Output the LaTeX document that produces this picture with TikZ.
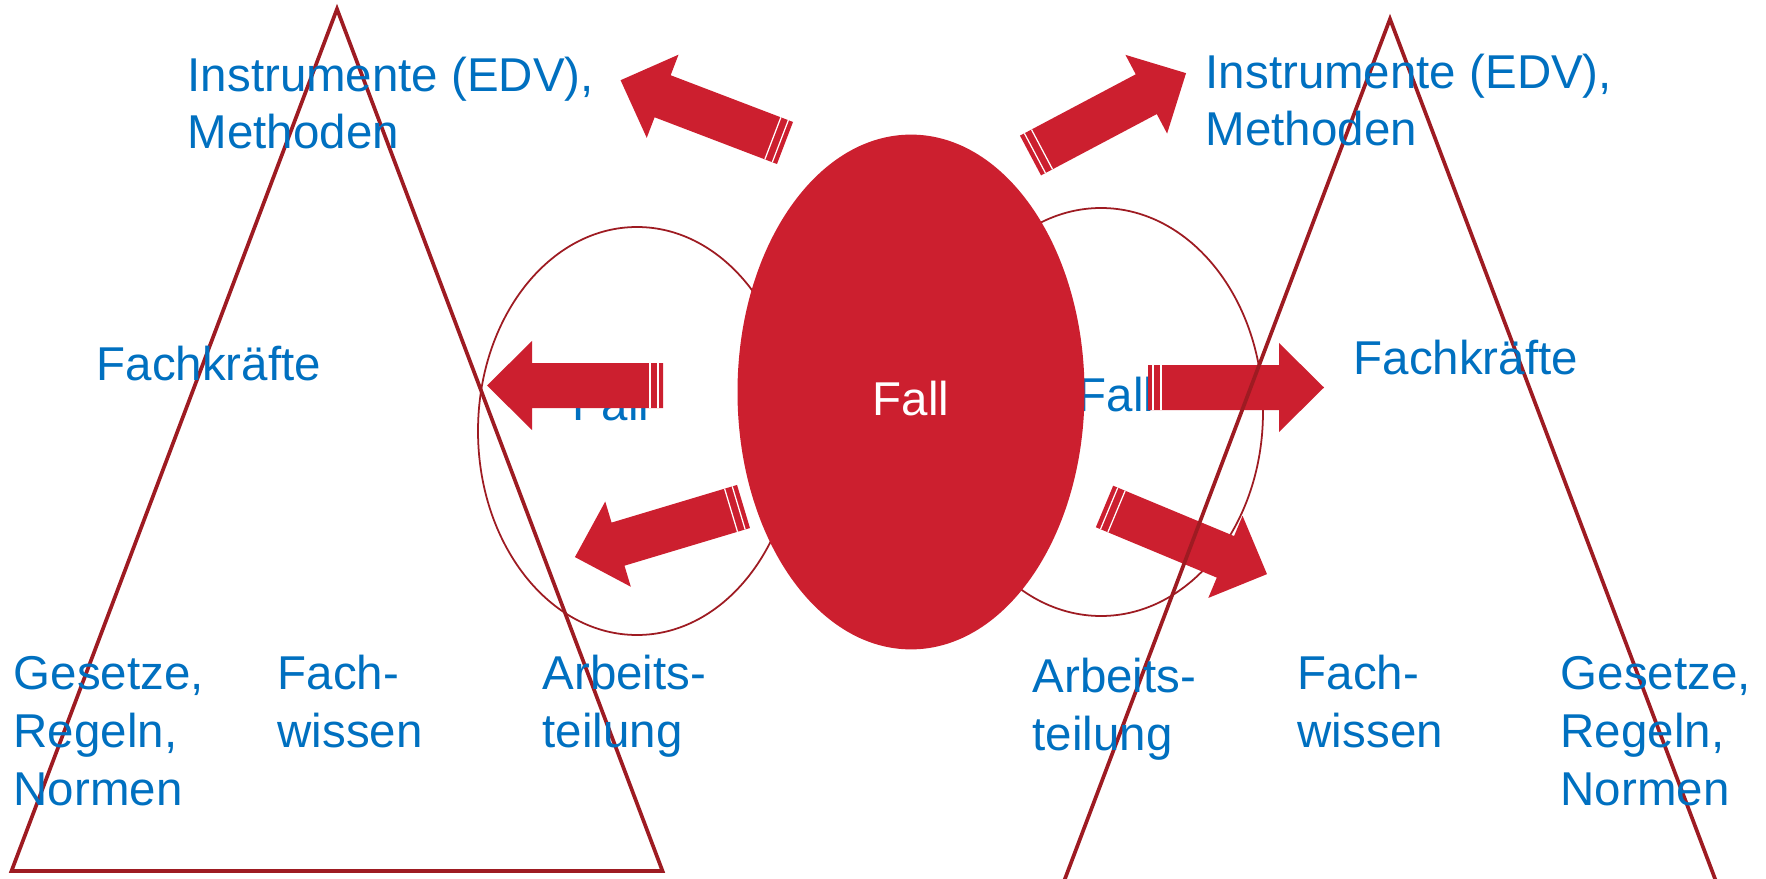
\documentclass[tikz,border=0pt]{standalone}
\usepackage{fontspec}
\setmainfont{Liberation Sans}
\usetikzlibrary{positioning}
\definecolor{fallRot}{HTML}{CC1F2F}
\definecolor{linieRot}{HTML}{9E1B22}
\definecolor{textBlau}{HTML}{0070C0}

\begin{document}
\begin{tikzpicture}[
  x=0.01cm, y=-0.01cm,
  font=\fontsize{13.5}{16.4}\selectfont,
  txt/.style={text=textBlau, anchor=base west, inner sep=0pt, align=left},
  dreieck/.style={draw=linieRot, line width=1.05pt, line join=miter},
  kreis/.style={draw=linieRot, line width=0.5pt},
  pfeil/.style={fill=fallRot},
  streifen/.style={draw=white, line width=0.35pt}
]
  % Rahmen (Seitengröße)
  \fill[white] (0,0) rectangle (1766,879);
  \useasboundingbox (0,0) rectangle (1766,879);

  % --- kleine Fall-Ellipsen ---
  \draw[kreis] (637,431) ellipse [x radius=159, y radius=204];
  \draw[kreis] (1101,412) ellipse [x radius=162, y radius=204];
  \node[txt] (fallL) at (572,420) {Fall};
  \node[txt] (fallR) at (1077,412) {Fall};

  % --- Blockpfeile: Schaftende / Winkel ---
  \foreach \tx/\ty/\ang in {785/143/159.1, 1030.5/155.5/27.9, 663/385.5/180,
                            1148/387.5/0, 743.5/506.5/196.7, 1104.5/506.5/-22.6}{
    \begin{scope}[shift={(\tx,\ty)}, rotate=\ang]
      \fill[pfeil] (0,-22.5) -- (131,-22.5) -- (131,-44.5) -- (176,0)
                   -- (131,44.5) -- (131,22.5) -- (0,22.5) -- cycle;
      \draw[streifen] (5,-22.5) -- (5,22.5) (13,-22.5) -- (13,22.5);
    \end{scope}
  }

  % --- zentraler Fall ---
  \fill[fallRot] (911,392) ellipse [x radius=173.5, y radius=257.4];
  \node[text=white, anchor=base, inner sep=0pt] (fall) at (911,416) {Fall};

  % --- Dreiecke ---
  \coordinate (spitzeL) at (337,9);
  \coordinate (spitzeR) at (1390,19);
  \draw[dreieck] (spitzeL) -- (662.5,871) -- (11.5,871) -- cycle;
  \draw[dreieck] (spitzeR) -- (1717,884) -- (1063,884) -- cycle;

  % --- Beschriftungen links (Grundlinie der letzten Zeile) ---
  \node[txt] (instrL)  at (187,149) {Instrumente (EDV),\\Methoden};
  \node[txt] (fachkrL) at (96,380)  {Fachkräfte};
  \node[txt] (gesetzL) at (13,805)  {Gesetze,\\Regeln,\\Normen};
  \node[txt] (wissenL) at (277,747) {Fach-\\wissen};
  \node[txt] (arbeitL) at (542,747) {Arbeits-\\teilung};

  % --- Beschriftungen rechts ---
  \node[txt] (instrR)  at (1205,146) {Instrumente (EDV),\\Methoden};
  \node[txt] (fachkrR) at (1353,374) {Fachkräfte};
  \node[txt] (arbeitR) at (1032,750) {Arbeits-\\teilung};
  \node[txt] (wissenR) at (1297,747) {Fach-\\wissen};
  \node[txt] (gesetzR) at (1560,805) {Gesetze,\\Regeln,\\Normen};

\end{tikzpicture}
\end{document}
